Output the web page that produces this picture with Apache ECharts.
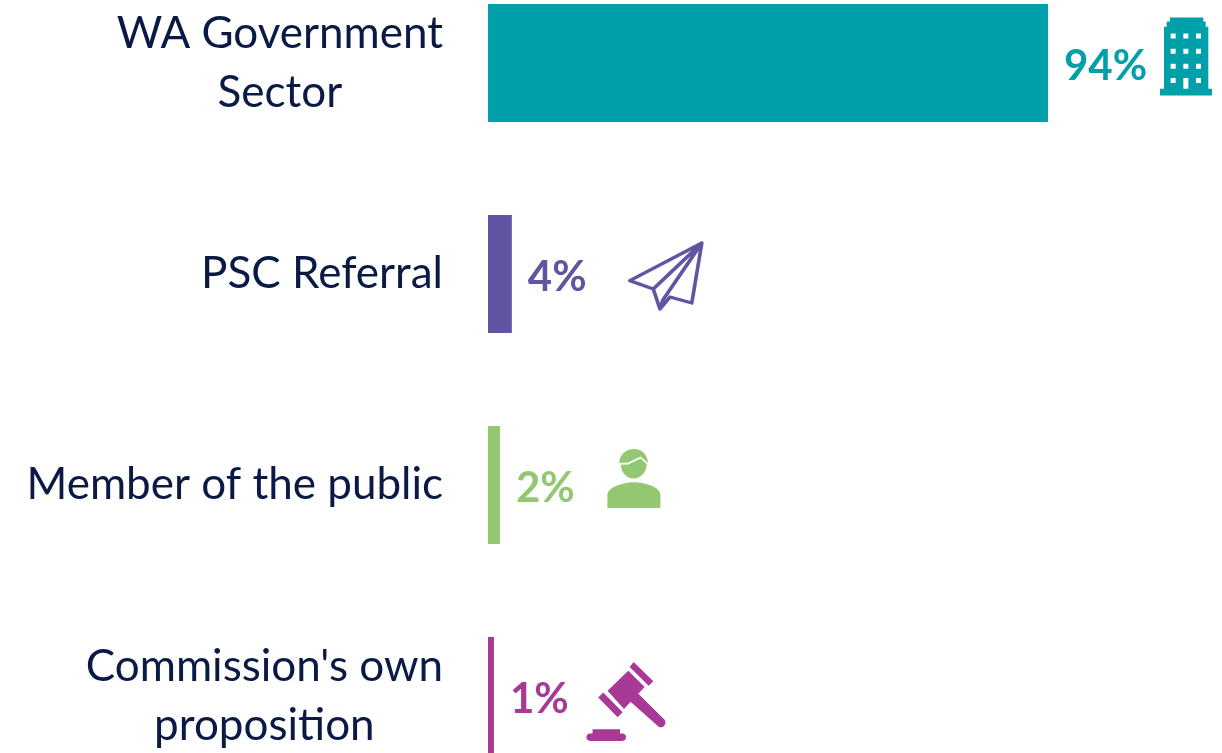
<!DOCTYPE html>
<html><head><meta charset="utf-8">
<style>html,body{margin:0;padding:0;background:#fff}#c{width:1222px;height:753px}</style>
<script src="https://cdn.jsdelivr.net/npm/echarts@6/dist/echarts.min.js"></script>
</head><body><div id="c"></div>
<script>
const categories = ["WA Government\nSector", "PSC Referral", "Member of the public", "Commission's own\nproposition"];
const values = [94, 4, 2, 1];
const colors = ["#00A0AB", "#6254A3", "#93C771", "#A93996"];

const buildingPath = "M390 52L490 52L490 64L497 64L497 80L505 80L505 265L516 265L516 285L360 285L360 265L372 265L372 80L380 80L380 64L390 64Z" +
  "M392 100L392 115L407 115L407 100Z M430 100L430 115L445 115L445 100Z M468 100L468 115L483 115L483 100Z" +
  "M392 145L392 160L407 160L407 145Z M430 145L430 160L445 160L445 145Z M468 145L468 160L483 160L483 145Z" +
  "M392 190L392 205L407 205L407 190Z M430 190L430 205L445 205L445 190Z M468 190L468 205L483 205L483 190Z" +
  "M392 233L392 248L407 248L407 233Z M430 233L430 265L445 265L445 233Z M468 233L468 248L483 248L483 233Z";
const planePath = "M665 100L450 213L520 238L540 298L570 262L635 280Z M665 100L520 238 M665 100L548 272L540 298";
const personPath = "M418 130C420 102 440 88 462 88C482 88 502 100 504 130L482 110L445 128Z" +
  "M423 135L445 134L482 116L500 133C500 158 482 176 462 176C440 176 424 158 423 135Z" +
  "M383 264L383 225C383 202 430 187 462 187C495 187 541 202 541 225L541 264Z";
const gavelPath = "M383 183L445 124L494 172L432 237Z M449 113L461 98L520 155L506 168Z M355 203L370 188L428 247L413 262Z" +
  "M450 214L473 190L553 268C563 280 548 298 535 289Z" +
  "M338 297L420 297L420 310L427 310C442 310 442 332 427 332L331 332C316 332 316 310 331 310L338 310Z";
const icons = [buildingPath, planePath, personPath, gavelPath];
const iconSizes = [[52, 78], [72, 66], [53, 59], [79, 79]];
const iconOffsets = [[138, -6.5], [154, 2], [134, -6.5], [132, 5.5]];

const chart = echarts.init(document.getElementById('c'), null, {renderer: 'canvas'});
const font = 'Lato';
const textColor = '#0A1A45';
chart.setOption({
  animation: false,
  backgroundColor: '#ffffff',
  grid: {left: 488, top: -42.5, width: 595.74, height: 844, containLabel: false, outerBoundsMode: 'none'},
  xAxis: {type: 'value', min: 0, max: 100, show: false},
  yAxis: {
    type: 'category', inverse: true, data: categories,
    axisLine: {show: false}, axisTick: {show: false}, splitLine: {show: false},
    axisLabel: {
      interval: 0, margin: 45, align: 'right',
      formatter: v => v.split('\n').map(s => '{c|' + s + '}').join('\n'),
      rich: {c: {align: 'center', fontFamily: font, fontSize: 44, lineHeight: 59, color: textColor}}
    }
  },
  series: [
    {
      type: 'bar', barWidth: 118, silent: true,
      data: values.map((v, i) => ({value: v, itemStyle: {color: colors[i]}, label: {color: colors[i]}})),
      label: {show: true, position: 'right', distance: 16, formatter: '{c}%', fontFamily: font, fontWeight: 'bold', fontSize: 42, offset: [0, 3]}
    },
    {
      type: 'scatter', silent: true,
      data: values.map((v, i) => ({
        value: [v, i],
        symbol: 'path://' + icons[i],
        symbolSize: iconSizes[i],
        symbolOffset: iconOffsets[i],
        itemStyle: i === 1
          ? {color: 'transparent', borderColor: colors[i], borderWidth: 3.5, borderJoin: 'round', opacity: 1}
          : {color: colors[i], opacity: 1}
      }))
    }
  ]
});
</script></body></html>
